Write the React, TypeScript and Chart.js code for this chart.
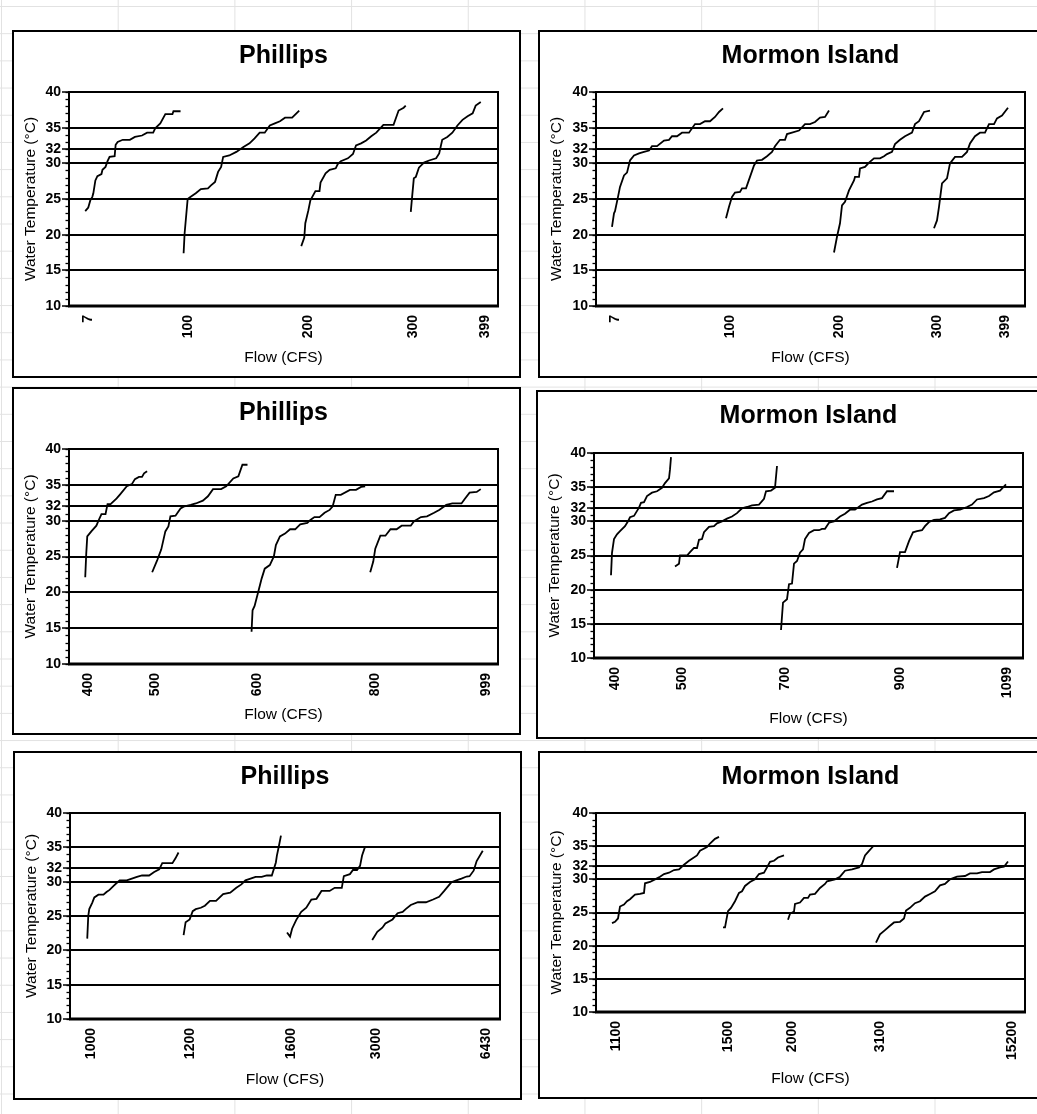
import React, { useEffect, useRef } from 'react';
import { Chart, registerables } from 'chart.js';

Chart.register(...registerables);

const FONT = '"Liberation Sans", Arial, Helvetica, sans-serif';

// ---- shared axis values ----
const yTickValues = [10, 15, 20, 25, 30, 32, 35, 40];
const yGridValues = [15, 20, 25, 30, 32, 35];
const yRange = [10, 40];
const xTitle = 'Flow (CFS)';
const yTitle = 'Water Temperature (°C)';

// ---- Panel A: Phillips, 7–399 cfs ----
const phillipsATicks = ['7', '100', '200', '300', '399'];
const phillipsATickRanks = [3, 101, 220, 323, 394];
const phillipsARange = [-16, 407];
const phillipsA1 = [[0,23.3],[3,23.8],[5,24.8],[7,25.3],[8,25.8],[10,27.6],[12,28.2],[16,28.5],[17,29.1],[20,29.5],[22,30.3],[24,30.9],[29,31.0],[30,32.6],[32,33.0],[37,33.3],[44,33.3],[49,33.7],[56,33.9],[61,34.3],[67,34.3],[69,34.9],[74,35.6],[79,36.9],[86,36.9],[87,37.3],[94,37.3]];
const phillipsA2 = [[97,17.4],[98,20.2],[101,25.0],[104,25.3],[109,25.8],[114,26.4],[121,26.5],[124,26.9],[128,27.4],[131,28.8],[134,29.5],[136,30.9],[142,31.1],[149,31.6],[156,32.3],[162,32.8],[167,33.5],[172,34.3],[177,34.3],[182,35.3],[187,35.6],[192,35.9],[197,36.4],[204,36.4],[211,37.4]];
const phillipsA3 = [[213,18.4],[216,19.6],[217,21.6],[220,23.4],[222,24.8],[227,26.1],[231,26.1],[232,27.3],[237,28.6],[241,29.1],[247,29.3],[249,29.9],[252,30.3],[259,30.7],[264,31.3],[267,32.5],[272,32.8],[277,33.2],[282,33.8],[287,34.3],[294,35.4],[304,35.4],[309,37.4],[314,37.8],[316,38.1]];
const phillipsA4 = [[321,23.2],[322,24.8],[324,27.9],[326,28.1],[329,29.4],[334,30.1],[339,30.4],[346,30.7],[349,31.4],[352,33.3],[357,33.7],[362,34.3],[367,35.3],[372,36.1],[377,36.6],[382,37.0],[385,38.1],[390,38.6]];

// ---- Panel B: Mormon Island, 7–399 cfs ----
const mormonBTicks = ['7', '100', '200', '300', '399'];
const mormonBTickRanks = [3, 118, 227, 325, 393];
const mormonBRange = [-16, 413];
const mormonB1 = [[0,21.1],[2,23.0],[3,23.3],[6,25.3],[8,26.7],[12,28.3],[15,28.7],[18,30.4],[22,31.1],[27,31.4],[32,31.6],[37,31.8],[40,32.4],[45,32.4],[52,33.2],[57,33.3],[60,33.8],[65,33.8],[70,34.3],[77,34.3],[83,35.5],[88,35.5],[93,35.9],[98,35.9],[103,36.5],[107,37.2],[111,37.7]];
const mormonB2 = [[114,22.3],[117,23.9],[120,25.3],[123,25.9],[128,26.0],[130,26.5],[134,26.5],[138,28.1],[142,29.7],[145,30.4],[150,30.5],[155,31.0],[160,31.6],[163,32.4],[168,33.3],[173,33.3],[175,34.1],[180,34.3],[187,34.6],[193,35.5],[198,35.5],[203,35.8],[208,36.4],[213,36.5],[217,37.4]];
const mormonB3 = [[222,17.5],[225,19.7],[228,21.6],[230,24.1],[233,24.6],[237,26.2],[242,27.6],[243,28.1],[247,28.1],[248,29.3],[253,29.5],[257,30.1],[262,30.7],[268,30.7],[272,31.0],[275,31.3],[280,31.6],[283,32.7],[288,33.3],[293,33.8],[300,34.3],[303,35.5],[307,35.9],[312,37.2],[318,37.4]];
const mormonB4 = [[322,20.9],[325,22.0],[327,23.9],[330,27.2],[335,27.9],[338,30.0],[343,30.9],[350,30.9],[355,31.6],[358,32.8],[363,33.8],[368,34.3],[373,34.3],[377,35.5],[382,35.5],[385,36.3],[390,36.7],[396,37.8]];

// ---- Panel C: Phillips, 400–999 cfs ----
const phillipsCTicks = ['400', '500', '600', '800', '999'];
const phillipsCTickRanks = [3, 69, 170, 286, 395];
const phillipsCRange = [-16, 407];
const phillipsC1 = [[0,22.1],[1,25.4],[2,27.8],[6,28.5],[11,29.3],[14,30.3],[16,30.9],[20,30.9],[22,32.3],[25,32.3],[31,33.1],[34,33.6],[41,34.8],[46,35.1],[49,35.8],[53,36.1],[56,36.1],[58,36.6],[61,36.9]];
const phillipsC2 = [[66,22.8],[71,24.5],[75,26.0],[79,28.5],[82,29.2],[84,30.6],[89,30.7],[94,31.7],[97,31.95],[104,32.2],[109,32.4],[116,32.8],[121,33.4],[126,34.4],[134,34.4],[139,34.8],[146,35.9],[151,36.2],[155,37.8],[160,37.8]];
const phillipsC3 = [[164,14.5],[165,17.5],[167,18.1],[171,20.3],[174,21.95],[177,23.3],[182,23.8],[186,25.0],[188,26.6],[192,27.8],[197,28.2],[202,28.8],[207,28.8],[212,29.5],[219,29.7],[222,30.1],[226,30.5],[231,30.5],[236,31.1],[241,31.5],[244,32.0],[247,33.6],[252,33.6],[261,34.3],[267,34.3],[272,34.7],[276,34.8]];
const phillipsC4 = [[281,22.8],[284,24.3],[286,26.1],[291,27.9],[296,27.9],[301,28.8],[307,28.8],[312,29.3],[321,29.3],[324,29.9],[331,30.5],[337,30.6],[344,31.1],[349,31.5],[356,32.2],[362,32.4],[371,32.4],[374,33.0],[379,33.9],[386,34.0],[390,34.4]];

// ---- Panel D: Mormon Island, 400–1099 cfs ----
const mormonDTicks = ['400', '500', '700', '900', '1099'];
const mormonDTickRanks = [4, 71, 174, 289, 396];
const mormonDRange = [-17, 412];
const mormonD1 = [[0,22.1],[1,25.4],[3,27.4],[6,28.1],[9,28.55],[14,29.3],[17,30.0],[19,30.6],[23,30.8],[28,32.0],[30,32.7],[33,32.8],[36,33.7],[41,34.2],[46,34.4],[51,34.9],[54,35.6],[58,36.3],[59,37.6],[60,39.4]];
const mormonD2 = [[64,23.4],[68,23.8],[69,25.0],[76,25.0],[79,25.5],[83,26.1],[86,26.1],[88,27.3],[91,27.4],[93,28.4],[98,29.2],[103,29.3],[106,29.7],[111,30.0],[116,30.4],[121,30.7],[126,31.2],[131,31.9],[136,32.1],[141,32.35],[148,32.45],[153,33.3],[155,34.4],[160,34.5],[164,34.9],[166,38.1]];
const mormonD3 = [[170,14.1],[172,18.1],[176,18.6],[178,20.8],[181,20.9],[183,23.8],[186,24.2],[189,25.4],[192,25.9],[194,27.4],[198,28.3],[203,28.7],[208,28.7],[211,28.9],[214,28.9],[218,29.8],[223,30.0],[229,30.7],[234,31.1],[239,31.7],[244,31.7],[251,32.45],[256,32.7],[261,32.9],[266,33.2],[271,33.4],[276,34.4],[283,34.4]];
const mormonD4 = [[286,23.2],[289,25.5],[294,25.5],[298,27.1],[302,28.4],[306,28.55],[311,28.7],[314,29.3],[318,29.9],[323,30.2],[329,30.3],[334,30.5],[338,31.2],[343,31.6],[349,31.7],[356,32.1],[361,32.45],[366,33.2],[373,33.4],[378,33.7],[383,34.25],[389,34.5],[395,35.4]];

// ---- Panel E: Phillips, 1000–6430 cfs ----
const phillipsETicks = ['1000', '1200', '1600', '3000', '6430'];
const phillipsETickRanks = [4, 101, 201, 285, 393];
const phillipsERange = [-17, 407];
const phillipsE1 = [[0,21.7],[1,25.0],[2,26.0],[5,26.95],[7,27.7],[11,28.1],[16,28.1],[19,28.5],[22,28.8],[26,29.4],[29,29.8],[32,30.2],[39,30.2],[44,30.45],[49,30.7],[54,30.9],[61,30.9],[66,31.4],[71,31.8],[74,32.7],[84,32.7],[87,33.4],[90,34.25]];
const phillipsE2 = [[95,22.2],[97,24.1],[101,24.5],[104,25.7],[107,26.0],[112,26.2],[116,26.5],[121,27.2],[127,27.2],[134,28.2],[141,28.4],[147,29.1],[152,29.6],[156,30.2],[161,30.45],[166,30.7],[172,30.7],[177,30.9],[182,30.9],[186,32.8],[187,33.8],[189,35.2],[191,36.7]];
const phillipsE3 = [[197,22.6],[200,22.0],[202,23.15],[206,24.4],[211,25.6],[216,26.2],[221,27.4],[226,27.5],[231,28.65],[239,28.65],[244,29.1],[251,29.1],[253,30.8],[259,31.1],[262,31.7],[266,31.7],[269,32.3],[271,33.8],[274,35.1]];
const phillipsE4 = [[281,21.5],[286,22.7],[291,23.3],[294,23.9],[301,24.5],[306,25.4],[311,25.6],[314,26.0],[319,26.6],[326,27.0],[334,27.0],[341,27.4],[347,27.8],[352,28.65],[359,29.9],[364,30.2],[369,30.45],[374,30.75],[377,30.8],[381,31.6],[384,33.0],[390,34.5]];

// ---- Panel F: Mormon Island, 1100–15200 cfs ----
const mormonFTicks = ['1100', '1500', '2000', '3100', '15200'];
const mormonFTickRanks = [4, 116, 180, 268, 400];
const mormonFRange = [-16, 413];
const mormonF1 = [[0,23.4],[3,23.6],[6,24.1],[8,25.9],[12,26.2],[15,26.7],[18,27.0],[23,27.7],[28,27.8],[32,27.95],[33,29.4],[38,29.6],[43,30.0],[48,30.4],[52,30.8],[57,31.0],[62,31.4],[67,31.5],[72,32.2],[77,32.8],[80,33.1],[85,33.6],[88,34.3],[95,34.85],[98,35.4],[103,36.1],[107,36.4]];
const mormonF2 = [[111,22.75],[113,22.75],[116,25.2],[119,25.7],[123,26.7],[127,27.95],[130,28.2],[133,29.0],[138,29.6],[143,30.0],[147,30.8],[152,31.0],[155,31.8],[158,32.65],[162,32.8],[166,33.3],[172,33.6]];
const mormonF3 = [[176,23.9],[178,24.8],[182,25.15],[183,26.3],[188,26.5],[192,27.2],[196,27.2],[198,27.7],[203,27.8],[208,28.7],[213,29.3],[215,29.7],[223,30.0],[228,30.4],[233,31.3],[240,31.5],[247,31.8],[250,32.3],[253,33.6],[257,34.3],[261,34.95]];
const mormonF4 = [[264,20.45],[268,21.7],[273,22.35],[278,23.0],[282,23.5],[288,23.6],[292,24.1],[294,25.3],[298,25.7],[303,26.4],[308,26.7],[313,27.4],[318,27.8],[323,28.2],[328,29.1],[333,29.3],[338,30.0],[345,30.4],[353,30.5],[358,30.9],[365,30.9],[370,31.1],[378,31.1],[382,31.5],[388,31.8],[392,31.9],[396,32.7]];

type Seg = number[][];
interface PanelCfg {
  title: string;
  ticks: string[];
  tickRanks: number[];
  range: number[];
  segments: Seg[];
  // layout (outer box)
  left: number; top: number; width: number; height: number;
  leftSpace: number; topSpace: number; rightPad: number; bottomSpace: number;
}

const panels: PanelCfg[] = [
  { title: 'Phillips', ticks: phillipsATicks, tickRanks: phillipsATickRanks, range: phillipsARange,
    segments: [phillipsA1, phillipsA2, phillipsA3, phillipsA4],
    left: 12, top: 30, width: 509, height: 348, leftSpace: 55, topSpace: 60, rightPad: 21, bottomSpace: 70 },
  { title: 'Mormon Island', ticks: mormonBTicks, tickRanks: mormonBTickRanks, range: mormonBRange,
    segments: [mormonB1, mormonB2, mormonB3, mormonB4],
    left: 538, top: 30, width: 512, height: 348, leftSpace: 56, topSpace: 60, rightPad: 23, bottomSpace: 70 },
  { title: 'Phillips', ticks: phillipsCTicks, tickRanks: phillipsCTickRanks, range: phillipsCRange,
    segments: [phillipsC1, phillipsC2, phillipsC3, phillipsC4],
    left: 12, top: 387, width: 509, height: 348, leftSpace: 55, topSpace: 60, rightPad: 21, bottomSpace: 69 },
  { title: 'Mormon Island', ticks: mormonDTicks, tickRanks: mormonDTickRanks, range: mormonDRange,
    segments: [mormonD1, mormonD2, mormonD3, mormonD4],
    left: 536, top: 390, width: 514, height: 349, leftSpace: 56, topSpace: 61, rightPad: 25, bottomSpace: 79 },
  { title: 'Phillips', ticks: phillipsETicks, tickRanks: phillipsETickRanks, range: phillipsERange,
    segments: [phillipsE1, phillipsE2, phillipsE3, phillipsE4],
    left: 13, top: 751, width: 509, height: 349, leftSpace: 55, topSpace: 60, rightPad: 20, bottomSpace: 79 },
  { title: 'Mormon Island', ticks: mormonFTicks, tickRanks: mormonFTickRanks, range: mormonFRange,
    segments: [mormonF1, mormonF2, mormonF3, mormonF4],
    left: 538, top: 751, width: 512, height: 348, leftSpace: 56, topSpace: 60, rightPad: 23, bottomSpace: 85 },
];

const framePlugin = {
  id: 'frameAndMinorTicks',
  afterDatasetsDraw(chart: any) {
    const { ctx, chartArea: a, scales } = chart;
    const y = scales.y;
    ctx.save();
    ctx.strokeStyle = '#000';
    // minor ticks every degree
    ctx.lineWidth = 1.3;
    for (let v = yRange[0]; v <= yRange[1]; v++) {
      const py = Math.round(y.getPixelForValue(v)) + 0.5;
      ctx.beginPath();
      ctx.moveTo(a.left - 3.5, py);
      ctx.lineTo(a.left, py);
      ctx.stroke();
    }
    // frame
    ctx.lineWidth = 2;
    ctx.beginPath();
    ctx.moveTo(a.left, a.bottom);
    ctx.lineTo(a.left, a.top);
    ctx.lineTo(a.right, a.top);
    ctx.lineTo(a.right, a.bottom);
    ctx.stroke();
    ctx.lineWidth = 3;
    ctx.beginPath();
    ctx.moveTo(a.left - 1, a.bottom);
    ctx.lineTo(a.right + 1, a.bottom);
    ctx.stroke();
    ctx.restore();
  },
};

function Panel({ cfg }: { cfg: PanelCfg }) {
  const ref = useRef<HTMLCanvasElement>(null);
  const cw = cfg.width - 4;
  const ch = cfg.height - 4;
  useEffect(() => {
    const canvas = ref.current;
    if (!canvas) return;
    const chart = new Chart(canvas, {
      type: 'line',
      data: {
        datasets: cfg.segments.map((seg) => ({
          data: seg.map(([x, t]) => ({ x, y: t })),
          borderColor: '#000',
          borderWidth: 1.8,
          pointRadius: 0,
          tension: 0,
          fill: false,
        })),
      },
      options: {
        animation: false,
        responsive: false,
        maintainAspectRatio: false,
        devicePixelRatio: 1,
        events: [],
        layout: { padding: { left: 0, right: cfg.rightPad, top: 0, bottom: 0 } },
        plugins: {
          legend: { display: false },
          tooltip: { enabled: false },
          title: {
            display: true,
            text: cfg.title,
            fullSize: false,
            color: '#000',
            font: { family: FONT, size: 25, weight: 'bold', lineHeight: 1.2 },
            padding: { top: 9, bottom: cfg.topSpace - 39 },
          },
        },
        scales: {
          x: {
            type: 'linear',
            min: cfg.range[0],
            max: cfg.range[1],
            afterBuildTicks: (s: any) => {
              s.ticks = cfg.tickRanks.map((v) => ({ value: v }));
            },
            afterFit: (s: any) => {
              s.height = cfg.bottomSpace;
            },
            grid: { display: false, drawTicks: false },
            border: { display: false },
            ticks: {
              autoSkip: false,
              minRotation: 90,
              maxRotation: 90,
              padding: 9,
              color: '#000',
              font: { family: FONT, size: 14, weight: 'bold' },
              callback: (_v: any, i: number) => cfg.ticks[i],
            },
            title: {
              display: true,
              text: xTitle,
              color: '#000',
              font: { family: FONT, size: 15.5 },
              padding: { top: 0, bottom: 9 },
            },
          },
          y: {
            type: 'linear',
            min: yRange[0],
            max: yRange[1],
            afterBuildTicks: (s: any) => {
              s.ticks = yTickValues.map((v) => ({ value: v }));
            },
            afterFit: (s: any) => {
              s.width = cfg.leftSpace;
            },
            grid: {
              color: (c: any) => (yGridValues.includes(c.tick?.value) ? '#000' : 'rgba(0,0,0,0)'),
              lineWidth: 2,
              drawTicks: true,
              tickLength: 7,
              tickColor: '#000',
              tickWidth: 1.5,
            },
            border: { display: false },
            ticks: {
              autoSkip: false,
              padding: 1,
              color: '#000',
              font: { family: FONT, size: 14, weight: 'bold' },
            },
            title: {
              display: true,
              text: yTitle,
              color: '#000',
              font: { family: FONT, size: 15.5 },
              padding: { top: 7, bottom: 0 },
            },
          },
        },
      } as any,
      plugins: [framePlugin],
    });
    return () => chart.destroy();
  }, [cfg]);

  return (
    <div
      style={{
        position: 'absolute',
        left: cfg.left,
        top: cfg.top,
        width: cfg.width,
        height: cfg.height,
        boxSizing: 'border-box',
        border: '2px solid #000',
        background: '#fff',
      }}
    >
      <canvas ref={ref} width={cw} height={ch} style={{ display: 'block', width: cw, height: ch }} />
    </div>
  );
}

export default function App() {
  return (
    <div
      style={{
        position: 'absolute',
        left: 0,
        top: 0,
        width: 1037,
        height: 1114,
        overflow: 'hidden',
        backgroundColor: '#fff',
        backgroundImage:
          'linear-gradient(to right, #e2e2e2 1px, transparent 1px), linear-gradient(to bottom, #e2e2e2 1px, transparent 1px)',
        backgroundSize: '116.7px 27.2px',
        backgroundPosition: '1px 6px',
      }}
    >
      {panels.map((p, i) => (
        <Panel key={i} cfg={p} />
      ))}
    </div>
  );
}
